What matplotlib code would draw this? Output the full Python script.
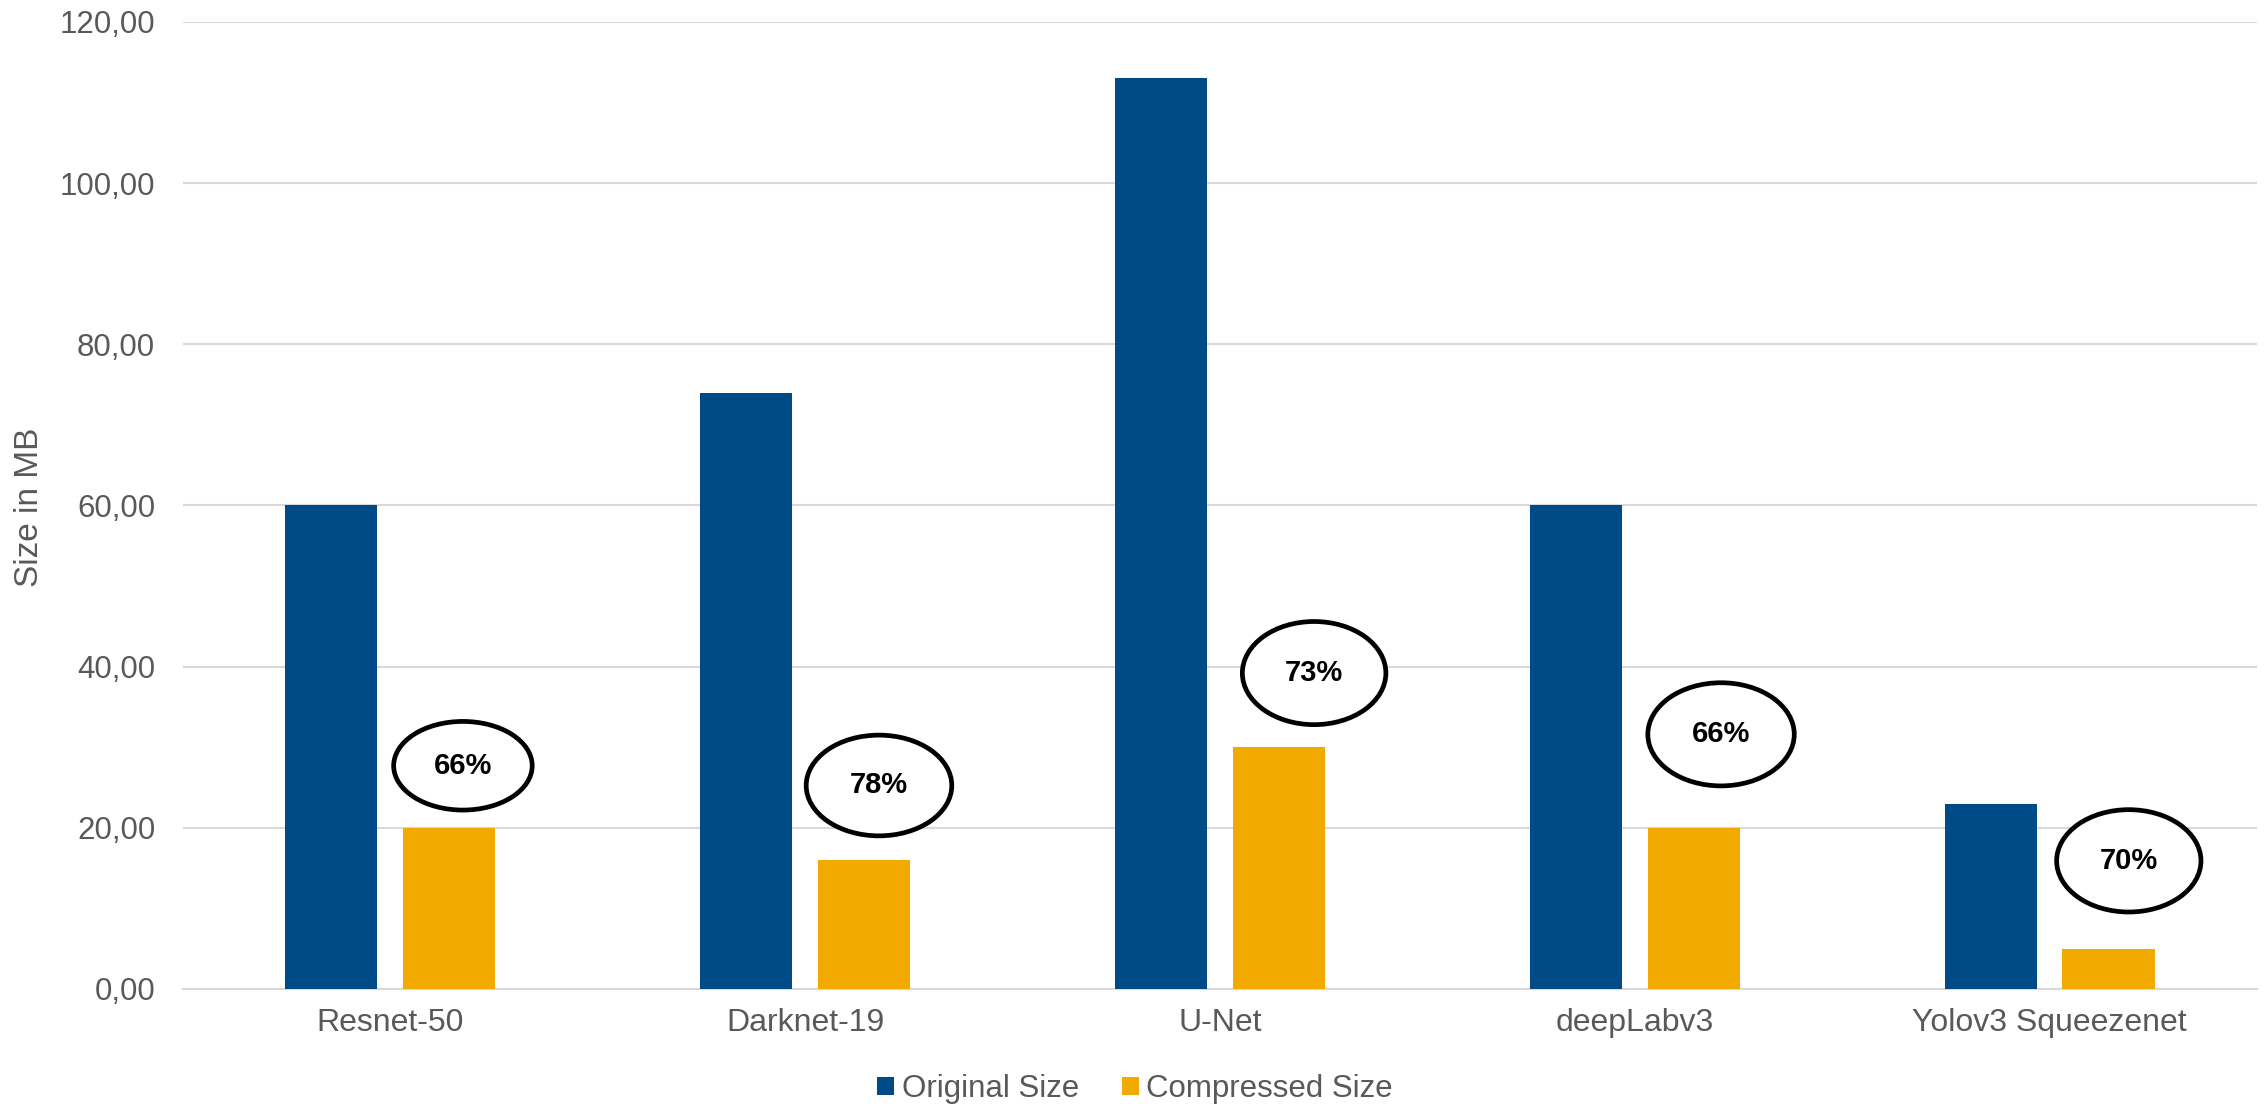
import matplotlib
matplotlib.use("Agg")
import matplotlib.pyplot as plt
from matplotlib.patches import Ellipse, Patch
import numpy as np

# Model sizes in MB
models = ["Resnet-50", "Darknet-19", "U-Net", "deepLabv3", "Yolov3 Squeezenet"]
original_size = [60, 74, 113, 60, 23]
compressed_size = [20, 16, 30, 20, 5]
reduction_labels = ["66%", "78%", "73%", "66%", "70%"]
y_ticks = [0, 20, 40, 60, 80, 100, 120]

# Callout ellipse placement (x in category units, y in MB) and size
callout_x = [0.175, 1.178, 2.227, 3.208, 4.191]
callout_y = [27.7, 25.25, 39.2, 31.6, 15.9]
callout_w = [0.334, 0.351, 0.346, 0.353, 0.348]
callout_h = [11.0, 12.5, 12.8, 12.8, 12.7]

BLUE = "#004B87"
ORANGE = "#F2A900"
GRID = "#D9D9D9"
TEXT = "#595959"

plt.rcParams["font.family"] = ["Liberation Sans", "DejaVu Sans"]

fig = plt.figure(figsize=(22.64, 11.04), dpi=100)
ax = fig.add_axes([0.0808, 0.1042, 0.9161, 0.8759])

x = np.arange(len(models))
bar_w = 0.222
offset = 0.142
ax.bar(x - offset, original_size, width=bar_w, color=BLUE, zorder=3)
ax.bar(x + offset, compressed_size, width=bar_w, color=ORANGE, zorder=3)

for cx, cy, w, h, lab in zip(callout_x, callout_y, callout_w, callout_h, reduction_labels):
    ax.add_patch(Ellipse((cx, cy), w, h, facecolor="white", edgecolor="black",
                         linewidth=3.4, zorder=4))
    ax.text(cx, cy, lab, ha="center", va="center", fontsize=21,
            fontweight="bold", color="black", zorder=5)

ax.set_xlim(-0.5, len(models) - 0.5)
ax.set_ylim(0, 120)
ax.set_yticks(y_ticks)
ax.set_yticklabels([f"{v:.2f}".replace(".", ",") for v in y_ticks])
ax.set_xticks(x)
ax.set_xticklabels(models)

ax.grid(axis="y", color=GRID, linewidth=1.5, zorder=0)
ax.set_axisbelow(True)
for side in ["top", "right", "left"]:
    ax.spines[side].set_visible(False)
ax.spines["bottom"].set_color(GRID)
ax.spines["bottom"].set_linewidth(1.5)
ax.spines["bottom"].set_zorder(2)

ax.tick_params(axis="y", length=0, pad=20, labelsize=22.5, labelcolor=TEXT)
ax.tick_params(axis="x", length=0, pad=14, labelsize=23, labelcolor=TEXT)

fig.text(29 / 2264, 1 - 507 / 1104, "Size in MB", rotation=90, ha="center",
         va="center", fontsize=24, color=TEXT)

handles = [Patch(facecolor=BLUE, edgecolor="none", label="Original Size"),
           Patch(facecolor=ORANGE, edgecolor="none", label="Compressed Size")]
leg = fig.legend(handles=handles, loc="center", bbox_to_anchor=(0.5013, 0.0135),
                 ncol=2, frameon=False, fontsize=22.5, handlelength=0.54,
                 handleheight=0.54, handletextpad=0.25, columnspacing=1.37,
                 borderpad=0, borderaxespad=0)
for t in leg.get_texts():
    t.set_color(TEXT)

fig.savefig("out.png", dpi=100)
